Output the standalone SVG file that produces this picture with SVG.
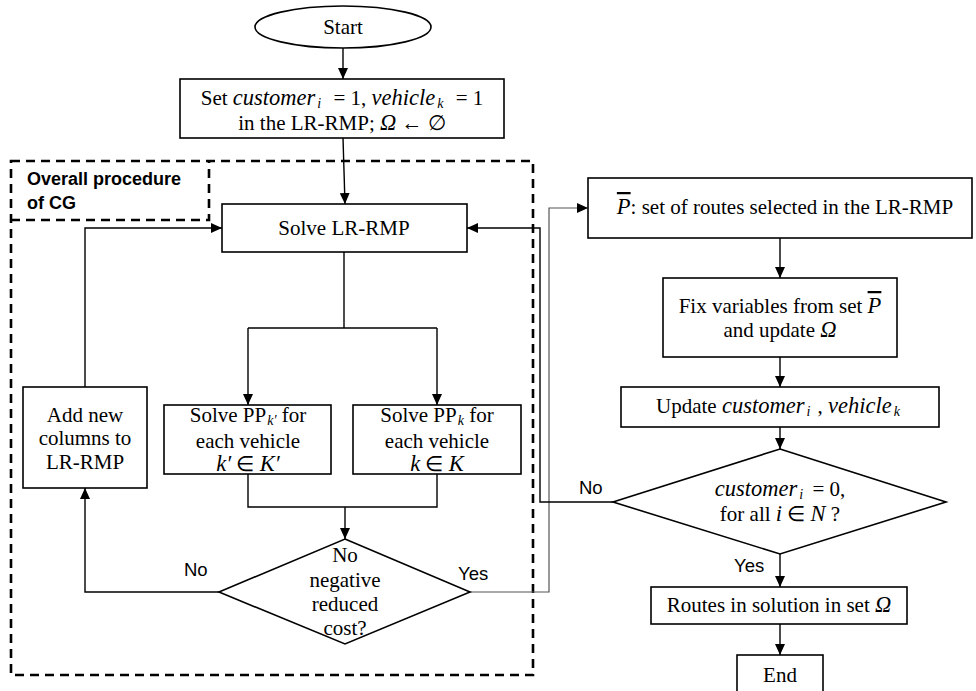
<svg xmlns="http://www.w3.org/2000/svg" width="976" height="691" viewBox="0 0 976 691">
<style>
.box{fill:#fff;stroke:#000;stroke-width:1.6}
.t{font-family:"Liberation Serif","Times New Roman",serif;font-size:21px;fill:#000;text-anchor:middle}
.m{font-style:italic;font-size:22.5px}
.sub{font-size:14px;font-style:italic}
.lbl{font-family:"Liberation Sans",Arial,sans-serif;font-size:18.5px;fill:#000}
.cn{fill:none;stroke:#000;stroke-width:1.4}
.gr{fill:none;stroke:#555;stroke-width:1.2}
.dash{fill:none;stroke:#000;stroke-width:2.6;stroke-dasharray:9,6}
.title{font-family:"Liberation Sans",Arial,sans-serif;font-size:18px;font-weight:bold;fill:#000}
</style>
<defs>
<marker id="ah" markerUnits="userSpaceOnUse" markerWidth="12" markerHeight="10" refX="11" refY="5" orient="auto">
<path d="M0,0 L11,5 L0,10 z" fill="#000"/>
</marker>
</defs>
<rect width="976" height="691" fill="#fff"/>

<g id="cg-frame">
<path class="dash" d="M11,161 H533 V675 H11 Z"/>
<path class="dash" d="M11,220 H209 V161"/>
<text class="title" x="27" y="185">Overall procedure</text>
<text class="title" x="27" y="209">of CG</text>
</g>

<g id="connectors">
<path class="cn" d="M343,48 V79" marker-end="url(#ah)"/>
<path class="cn" d="M343,138 L345,204" marker-end="url(#ah)"/>
<path class="cn" d="M344,252 V328"/>
<path class="cn" d="M248,328 H437"/>
<path class="cn" d="M248,328 V405" marker-end="url(#ah)"/>
<path class="cn" d="M437,328 V405" marker-end="url(#ah)"/>
<path class="cn" d="M248,474 V507 H437 V474"/>
<path class="cn" d="M345,507 V539" marker-end="url(#ah)" stroke-width="2"/>
<path class="cn" d="M219,592 H85 V488" marker-end="url(#ah)"/>
<path class="cn" d="M85,387 V228 H222" marker-end="url(#ah)"/>
<path class="gr" d="M470,592 H549 V208 H588" marker-end="url(#ah)"/>
<path class="cn" d="M613,502 H540 V228 H467" marker-end="url(#ah)"/>
<path class="cn" d="M780,238 V278" marker-end="url(#ah)"/>
<path class="cn" d="M780,357 V387" marker-end="url(#ah)"/>
<path class="cn" d="M780,427 V449" marker-end="url(#ah)"/>
<path class="cn" d="M780,554 V587" marker-end="url(#ah)"/>
<path class="cn" d="M780,624 V655" marker-end="url(#ah)"/>
<text class="lbl" x="184" y="576">No</text>
<text class="lbl" x="458" y="580">Yes</text>
<text class="lbl" x="579" y="494">No</text>
<text class="lbl" x="734" y="572">Yes</text>
</g>

<g id="start">
<ellipse cx="343" cy="27" rx="88" ry="21" class="box"/>
<text class="t" x="343" y="34">Start</text>
</g>

<g id="init">
<rect x="180" y="79" width="324" height="59" class="box"/>
<text class="t" x="342" y="105">Set <tspan class="m">customer</tspan><tspan class="sub" dx="2" dy="3">i</tspan><tspan dx="7" dy="-3"> = 1, </tspan><tspan class="m">vehicle</tspan><tspan class="sub" dx="2" dy="3">k</tspan><tspan dx="7" dy="-3"> = 1</tspan></text>
<text class="t" x="342" y="130">in the LR-RMP;  <tspan class="m">Ω</tspan> ← ∅</text>
</g>

<g id="solve-lrrmp">
<rect x="222" y="204" width="245" height="48" class="box"/>
<text class="t" x="344" y="235">Solve LR-RMP</text>
</g>

<g id="pp-kprime">
<rect x="164" y="405" width="167" height="69" class="box"/>
<text class="t" x="248" y="422">Solve PP<tspan class="sub" dx="1" dy="3">k′</tspan><tspan dy="-3"> for</tspan></text>
<text class="t" x="248" y="448">each vehicle</text>
<text class="t" x="248" y="471"><tspan class="m">k′</tspan> ∈ <tspan class="m">K′</tspan></text>
</g>

<g id="pp-k">
<rect x="353" y="405" width="168" height="69" class="box"/>
<text class="t" x="437" y="422">Solve PP<tspan class="sub" dx="1" dy="3">k</tspan><tspan dy="-3"> for</tspan></text>
<text class="t" x="437" y="448">each vehicle</text>
<text class="t" x="437" y="471"><tspan class="m">k</tspan> ∈ <tspan class="m">K</tspan></text>
</g>

<g id="add-columns">
<rect x="23" y="387" width="124" height="101" class="box"/>
<text class="t" x="85" y="422">Add new</text>
<text class="t" x="85" y="445">columns to</text>
<text class="t" x="85" y="469">LR-RMP</text>
</g>

<g id="reduced-cost">
<path d="M345,539 L470,592 L345,644 L219,592 Z" class="box"/>
<text class="t" x="345" y="562">No</text>
<text class="t" x="345" y="587">negative</text>
<text class="t" x="345" y="611">reduced</text>
<text class="t" x="345" y="635">cost?</text>
</g>

<g id="pbar">
<rect x="588" y="178" width="384" height="60" class="box"/>
<text class="t" x="785" y="214"><tspan class="m" text-decoration="overline">P</tspan>: set of routes selected in the LR-RMP</text>
</g>

<g id="fix">
<rect x="663" y="278" width="234" height="79" class="box"/>
<text class="t" x="780" y="313">Fix variables from set <tspan class="m" text-decoration="overline">P</tspan></text>
<text class="t" x="780" y="337">and  update <tspan class="m">Ω</tspan></text>
</g>

<g id="update">
<rect x="621" y="387" width="318" height="40" class="box"/>
<text class="t" x="778" y="413">Update <tspan class="m">customer</tspan><tspan class="sub" dx="2" dy="3">i</tspan><tspan dx="2" dy="-3"> , </tspan><tspan class="m">vehicle</tspan><tspan class="sub" dx="2" dy="3">k</tspan></text>
</g>

<g id="all-served">
<path d="M780,449 L946,502 L780,554 L613,502 Z" class="box"/>
<text class="t" x="780" y="496"><tspan class="m">customer</tspan><tspan class="sub" dx="2" dy="3">i</tspan><tspan dx="4" dy="-3"> = 0,</tspan></text>
<text class="t" x="780" y="521">for all <tspan class="m">i</tspan> ∈ <tspan class="m">N</tspan> ?</text>
</g>

<g id="routes">
<rect x="651" y="587" width="256" height="37" class="box"/>
<text class="t" x="779" y="612">Routes in solution in set <tspan class="m">Ω</tspan></text>
</g>

<g id="end">
<rect x="737" y="655" width="86" height="42" class="box"/>
<text class="t" x="780" y="682">End</text>
</g>
</svg>
